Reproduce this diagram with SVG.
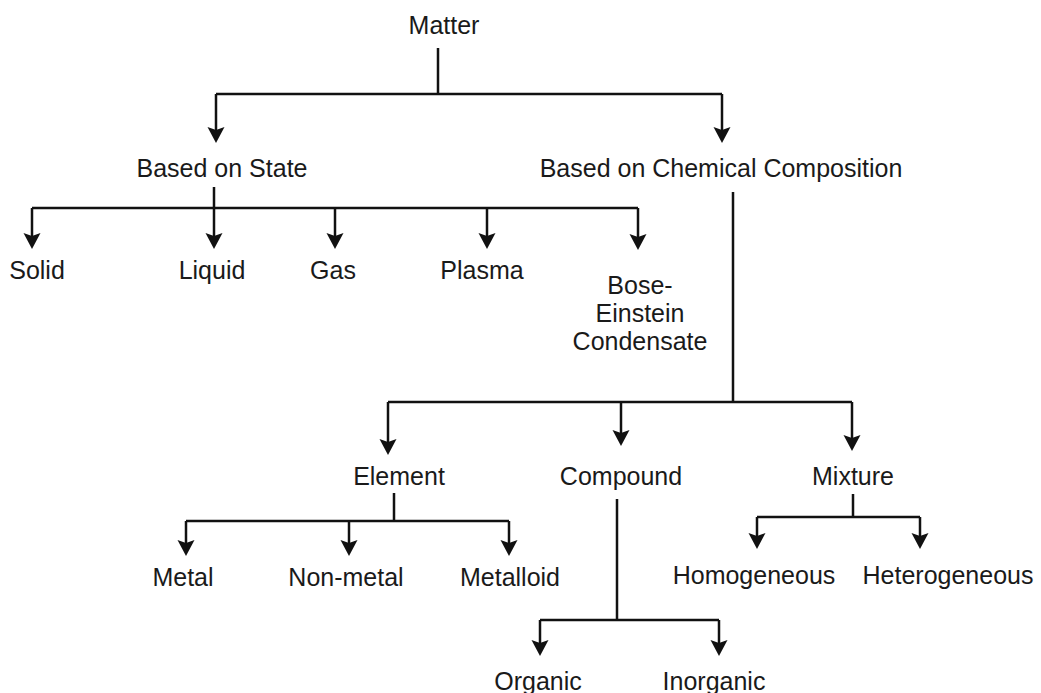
<svg xmlns="http://www.w3.org/2000/svg" width="1041" height="693" viewBox="0 0 1041 693">
<defs>
<marker id="arr" markerUnits="userSpaceOnUse" markerWidth="20" markerHeight="20" viewBox="0 -10 20 20" refX="10" refY="0" orient="auto">
<path d="M0,-8.5 L3,0 L0,8.5 L16,0 Z" fill="#111"/>
</marker>
<style>
.t{font-family:"Liberation Sans",Arial,sans-serif;font-size:25px;fill:#1a1a1a;text-anchor:middle}
.c{fill:none;stroke:#111;stroke-width:2.5}
.a{marker-end:url(#arr)}
</style>
</defs>
<rect width="1041" height="693" fill="#ffffff"/>
<g id="connectors">
<path class="c" d="M438,48 V94 M216,94 H722"/>
<path class="c a" d="M216,94 V137"/>
<path class="c a" d="M722,94 V137"/>
<path class="c" d="M214,187 V208 M32,208 H638"/>
<path class="c a" d="M32,208 V243"/>
<path class="c a" d="M214,208 V243"/>
<path class="c a" d="M335,208 V243"/>
<path class="c a" d="M487,208 V243"/>
<path class="c a" d="M638,208 V244"/>
<path class="c" d="M733,192 V402 M388,402 H852"/>
<path class="c a" d="M388,402 V449"/>
<path class="c a" d="M621,402 V440"/>
<path class="c a" d="M852,402 V445"/>
<path class="c" d="M394,493 V521 M186,521 H509"/>
<path class="c a" d="M186,521 V550"/>
<path class="c a" d="M349,521 V550"/>
<path class="c a" d="M509,521 V550"/>
<path class="c" d="M617,499 V620 M540,620 H719"/>
<path class="c a" d="M540,620 V650"/>
<path class="c a" d="M719,620 V650"/>
<path class="c" d="M853,494 V517 M757,517 H920"/>
<path class="c a" d="M757,517 V543"/>
<path class="c a" d="M920,517 V543"/>
</g>
<g id="matter"><text class="t" x="444" y="34">Matter</text></g>
<g id="based-on-state"><text class="t" x="222" y="177">Based on State</text></g>
<g id="based-on-chemical-composition"><text class="t" x="721" y="177">Based on Chemical Composition</text></g>
<g id="solid"><text class="t" x="37" y="279">Solid</text></g>
<g id="liquid"><text class="t" x="212" y="279">Liquid</text></g>
<g id="gas"><text class="t" x="333" y="279">Gas</text></g>
<g id="plasma"><text class="t" x="482" y="279">Plasma</text></g>
<g id="bec"><text class="t" x="640" y="294">Bose-</text><text class="t" x="640" y="322">Einstein</text><text class="t" x="640" y="350">Condensate</text></g>
<g id="element"><text class="t" x="399" y="485">Element</text></g>
<g id="compound"><text class="t" x="621" y="485">Compound</text></g>
<g id="mixture"><text class="t" x="853" y="485">Mixture</text></g>
<g id="metal"><text class="t" x="183" y="586">Metal</text></g>
<g id="non-metal"><text class="t" x="346" y="586">Non-metal</text></g>
<g id="metalloid"><text class="t" x="510" y="586">Metalloid</text></g>
<g id="homogeneous"><text class="t" x="754" y="584">Homogeneous</text></g>
<g id="heterogeneous"><text class="t" x="948" y="584">Heterogeneous</text></g>
<g id="organic"><text class="t" x="538" y="690">Organic</text></g>
<g id="inorganic"><text class="t" x="714" y="690">Inorganic</text></g>
</svg>
